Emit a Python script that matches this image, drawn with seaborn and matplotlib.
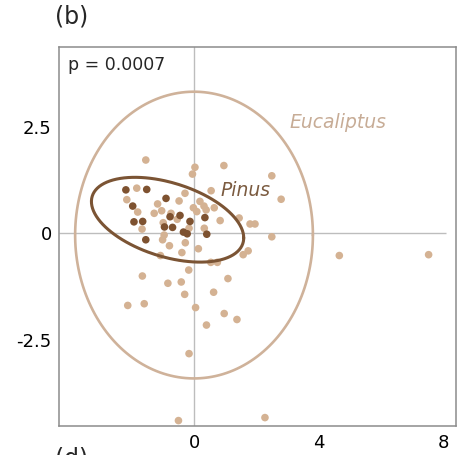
import numpy as np
import pandas as pd
import seaborn as sb
from matplotlib import pyplot as plt

# PCA-like scores
euc_x = [-1.56, 0.02, 0.95, -0.06, 2.49, 0.54, -0.30, -1.85, -2.17, -1.18,
         -0.49, -1.82, -1.29, -1.05, -0.75, -0.03, 0.18, 0.31, 0.38, 0.64,
         0.08, 0.83, -0.55, -1.00, -0.17, 0.32, -1.68, 1.79, 1.95, 1.44,
         2.49, 2.79, -1.02, -0.29, -0.80, 0.13, -1.09, -0.40, 1.57, 1.73,
         0.53, 0.74, -1.67, -0.85, -0.42, -0.18, 1.08, -0.31, 0.62, -2.14,
         -1.61, 0.04, 0.96, 1.37, 0.39, -0.17, -0.51, 2.27, 4.66, 7.53,
         -0.97]
euc_y = [1.72, 1.55, 1.59, 1.39, 1.35, 1.00, 0.94, 1.06, 0.79, 0.69,
         0.76, 0.50, 0.47, 0.53, 0.47, 0.60, 0.75, 0.64, 0.55, 0.60,
         0.51, 0.30, 0.33, 0.25, 0.12, 0.12, 0.10, 0.22, 0.22, 0.36,
         -0.08, 0.80, -0.15, -0.22, -0.29, -0.36, -0.52, -0.45, -0.50, -0.41,
         -0.68, -0.68, -1.00, -1.17, -1.14, -0.86, -1.06, -1.43, -1.38, -1.69,
         -1.65, -1.74, -1.88, -2.02, -2.15, -2.82, -4.39, -4.32, -0.52, -0.50,
         -0.04]
pin_x = [-2.20, -1.53, -1.98, -0.91, -1.94, -1.66, -1.56, -0.78, -0.96, -0.70,
         -0.46, -0.14, -0.35, -0.23, 0.34, 0.40]
pin_y = [1.02, 1.03, 0.64, 0.82, 0.27, 0.28, -0.15, 0.39, 0.15, 0.14,
         0.42, 0.28, 0.03, -0.01, 0.37, -0.02]

# ellipse centres and shape matrices
euc_center = [-0.01, -0.04]
euc_cov = [[14.6, 0.0], [0.0, 11.3]]
pin_center = [-0.86, 0.32]
pin_cov = [[5.99, -1.043], [-1.043, 0.988]]

colors = {"Eucaliptus": "#D4B293", "Pinus": "#7E5230"}
line_colors = {"Eucaliptus": "#CFB29A", "Pinus": "#7B5434"}


def ellipse_points(center, cov, n=200):
    t = np.linspace(0, 2 * np.pi, n)
    chol = np.linalg.cholesky(np.array(cov))
    pts = chol @ np.vstack([np.cos(t), np.sin(t)])
    return pts[0] + center[0], pts[1] + center[1]


df = pd.concat([
    pd.DataFrame({"x": euc_x, "y": euc_y, "genus": "Eucaliptus"}),
    pd.DataFrame({"x": pin_x, "y": pin_y, "genus": "Pinus"}),
])

sb.set_style("white")
plt.rcParams["font.family"] = ["DejaVu Sans"]

fig = plt.figure(figsize=(4.62, 4.55), dpi=100)
ax = fig.add_axes([0.127, 0.0644, 0.86, 0.8323])

ax.set_xlim(-4.36, 8.41)
ax.set_ylim(-4.51, 4.37)

# reference lines
ax.axvline(0, color="#BDBDBD", lw=1, zorder=1)
ax.hlines(0, -4.36, 8.1, color="#BDBDBD", lw=1, zorder=1)

sb.scatterplot(data=df, x="x", y="y", hue="genus", palette=colors,
               s=30, linewidth=0, legend=False, ax=ax, zorder=3)

ex, ey = ellipse_points(euc_center, euc_cov)
ax.plot(ex, ey, color=line_colors["Eucaliptus"], lw=1.9, zorder=2)
px, py = ellipse_points(pin_center, pin_cov)
ax.plot(px, py, color=line_colors["Pinus"], lw=2.2, zorder=4)

ax.text(4.62, 2.59, "Eucaliptus", style="italic", fontsize=13.5,
        color="#C7AC96", ha="center", va="center")
ax.text(1.63, 1.0, "Pinus", style="italic", fontsize=13.5,
        color="#7B5B40", ha="center", va="center")
ax.text(0.024, 0.975, "p = 0.0007", transform=ax.transAxes, fontsize=12.5,
        ha="left", va="top")

ax.set_xticks([0, 4, 8])
ax.set_xticklabels(["0", "4", "8"])
ax.set_yticks([2.5, 0, -2.5])
ax.set_yticklabels(["2.5", "0", "-2.5"])
ax.tick_params(axis="both", labelsize=13, colors="black")
ax.tick_params(axis="y", length=3, width=1, color="#999999", pad=2)
ax.tick_params(axis="x", length=0, pad=6)
ax.set_xlabel("")
ax.set_ylabel("")

for sp in ax.spines.values():
    sp.set_visible(True)
    sp.set_color("#8C8C8C")
    sp.set_linewidth(1.1)

fig.text(0.118, 0.99, "(b)", fontsize=17, ha="left", va="top")
# the next panel's label is cut by the bottom edge, as in the original
fig.text(0.118, 0.018, "(d)", fontsize=17, ha="left", va="top")

plt.savefig("out.png", dpi=100)
